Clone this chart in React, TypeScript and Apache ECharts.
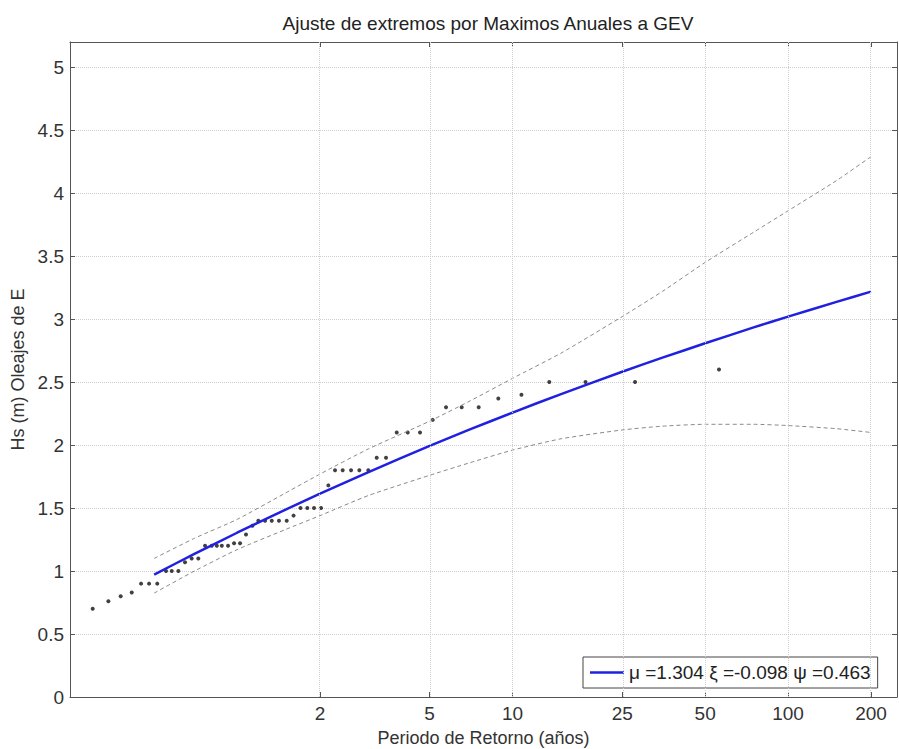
import React, { useEffect, useRef } from "react";
import * as echarts from "echarts";

const TITLE = "Ajuste de extremos por Maximos Anuales a GEV";
const X_NAME = "Periodo de Retorno (años)";
const Y_NAME = "Hs (m) Oleajes de E";
const LEGEND_LABEL = "μ =1.304 ξ =-0.098 ψ =0.463";

const X_TICKS = [2, 5, 10, 25, 50, 100, 200];
const T_MIN = 0.2474;
const T_MAX = 248.6;
const Y_MIN = 0;
const Y_MAX = 5.2;
const Y_STEP = 0.5;

// observed annual maxima (return period position, Hs)
const OBS_T = [
  0.299, 0.341, 0.378, 0.4145, 0.448, 0.479, 0.513, 0.552, 0.579, 0.612,
  0.647, 0.684, 0.723, 0.765, 0.809, 0.844, 0.88, 0.927, 0.975, 1.025,
  1.077, 1.137, 1.194, 1.263, 1.336, 1.419, 1.514, 1.603, 1.699, 1.798,
  1.902, 2.017, 2.144, 2.267, 2.417, 2.592, 2.778, 2.994, 3.212, 3.472,
  3.797, 4.163, 4.613, 5.13, 5.733, 6.537, 7.534, 8.876, 10.77, 13.59,
  18.4, 27.83, 56.14,
];
const OBS_HS = [
  0.7, 0.76, 0.8, 0.83, 0.9, 0.9, 0.9, 1.0, 1.0, 1.0,
  1.07, 1.1, 1.1, 1.2, 1.2, 1.2, 1.2, 1.2, 1.22, 1.22,
  1.29, 1.36, 1.4, 1.4, 1.4, 1.4, 1.4, 1.44, 1.5, 1.5,
  1.5, 1.5, 1.68, 1.8, 1.8, 1.8, 1.8, 1.8, 1.9, 1.9,
  2.1, 2.1, 2.1, 2.2, 2.3, 2.3, 2.3, 2.37, 2.4, 2.5,
  2.5, 2.5, 2.6,
];

// GEV fit and confidence bounds
const FIT_T = [0.5, 0.7, 1, 1.5, 2, 3, 5, 7, 10, 15, 25, 35, 50, 75, 100, 150, 200];
const FIT_HS = [0.972, 1.136, 1.304, 1.488, 1.614, 1.786, 1.993, 2.124, 2.258, 2.405, 2.582, 2.694, 2.808, 2.934, 3.02, 3.137, 3.218];
const UPPER_HS = [1.1, 1.26, 1.41, 1.62, 1.77, 1.97, 2.19, 2.35, 2.53, 2.73, 3.02, 3.22, 3.45, 3.69, 3.86, 4.1, 4.29];
const LOWER_HS = [0.825, 1.0, 1.17, 1.33, 1.44, 1.6, 1.76, 1.86, 1.96, 2.05, 2.12, 2.15, 2.165, 2.165, 2.155, 2.13, 2.1];

const FONT = "'Liberation Sans', Arial, Helvetica, sans-serif";
const AXIS_COLOR = "#555";
const TEXT_COLOR = "#333";

const lg = (t: number) => Math.log10(t);
const pairs = (ts: number[], vs: number[]) => ts.map((t, i) => [lg(t), vs[i]]);

export default function App() {
  const ref = useRef<HTMLDivElement>(null);
  useEffect(() => {
    if (!ref.current) return;
    const chart = echarts.init(ref.current, undefined, { renderer: "svg" });
    const tickVals = X_TICKS.map(lg);
    const baseX = {
      type: "value" as const,
      min: lg(T_MIN),
      max: lg(T_MAX),
      axisLine: { show: true, onZero: false, lineStyle: { color: AXIS_COLOR, width: 1 } },
      axisTick: { show: true, inside: true, length: 5, customValues: tickVals, lineStyle: { color: AXIS_COLOR } },
      splitLine: { show: false },
    };
    const baseY = {
      type: "value" as const,
      min: Y_MIN,
      max: Y_MAX,
      interval: Y_STEP,
      axisLine: { show: true, onZero: false, lineStyle: { color: AXIS_COLOR, width: 1 } },
      axisTick: { show: true, inside: true, length: 5, lineStyle: { color: AXIS_COLOR } },
    };
    chart.setOption({
      animation: false,
      textStyle: { fontFamily: FONT },
      title: {
        text: TITLE,
        left: 483,
        textAlign: "center",
        top: 9,
        textStyle: { fontSize: 19, fontWeight: "normal", color: "#222", fontFamily: FONT },
      },
      grid: { left: 70, top: 42, right: 2, bottom: 52, containLabel: false, outerBoundsMode: "none" },
      legend: {
        data: [{ name: LEGEND_LABEL, icon: "rect" }],
        left: 583,
        top: 657,
        backgroundColor: "#fff",
        borderColor: "#444",
        borderWidth: 1,
        borderRadius: 0,
        padding: [6, 7, 6, 7],
        itemWidth: 34,
        itemHeight: 2.5,
        itemGap: 6,
        textStyle: { fontSize: 19, color: "#222", fontFamily: FONT },
      },
      xAxis: [
        {
          ...baseX,
          position: "bottom",
          axisLabel: {
            customValues: tickVals,
            formatter: (v: number) => String(Math.round(Math.pow(10, v))),
            fontSize: 19,
            color: TEXT_COLOR,
            margin: 7,
            fontFamily: FONT,
          },
          name: X_NAME,
          nameLocation: "middle",
          nameGap: 32,
          nameTextStyle: { fontSize: 18, color: TEXT_COLOR, fontFamily: FONT },
        },
        { ...baseX, position: "top", axisLabel: { show: false } },
      ],
      yAxis: [
        {
          ...baseY,
          position: "left",
          axisLabel: {
            fontSize: 19,
            color: TEXT_COLOR,
            margin: 6,
            fontFamily: FONT,
            formatter: (v: number) => (v > 5.01 ? "" : String(v)),
          },
          splitLine: { show: true, lineStyle: { type: "dotted", color: "#cfcfcf", width: 1 } },
          name: Y_NAME,
          nameLocation: "middle",
          nameGap: 40,
          nameTextStyle: { fontSize: 18, color: TEXT_COLOR, fontFamily: FONT },
        },
        { ...baseY, position: "right", axisLabel: { show: false }, splitLine: { show: false } },
      ],
      series: [
        {
          name: "lower",
          type: "line",
          data: pairs(FIT_T, LOWER_HS),
          symbol: "none",
          smooth: 0.2,
          lineStyle: { color: "#8a8a8a", width: 1, type: [4, 3] },
          silent: true,
          markLine: {
            silent: true,
            symbol: ["none", "none"],
            label: { show: false },
            lineStyle: { type: "dotted", color: "#cfcfcf", width: 1 },
            data: tickVals.map((v) => ({ xAxis: v })),
          },
        },
        {
          name: "upper",
          type: "line",
          data: pairs(FIT_T, UPPER_HS),
          symbol: "none",
          smooth: 0.2,
          lineStyle: { color: "#8a8a8a", width: 1, type: [4, 3] },
          silent: true,
        },
        {
          name: LEGEND_LABEL,
          type: "line",
          data: pairs(FIT_T, FIT_HS),
          symbol: "none",
          smooth: 0.2,
          lineStyle: { color: "#2020e0", width: 2.5 },
          itemStyle: { color: "#2020e0" },
          silent: true,
        },
        {
          name: "obs",
          type: "scatter",
          data: pairs(OBS_T, OBS_HS),
          symbolSize: 4,
          itemStyle: { color: "#111" },
          silent: true,
        },
      ],
    });
    return () => chart.dispose();
  }, []);
  return (
    <div
      ref={ref}
      style={{ position: "absolute", left: 0, top: 0, width: 899, height: 749, background: "#fff" }}
    />
  );
}
